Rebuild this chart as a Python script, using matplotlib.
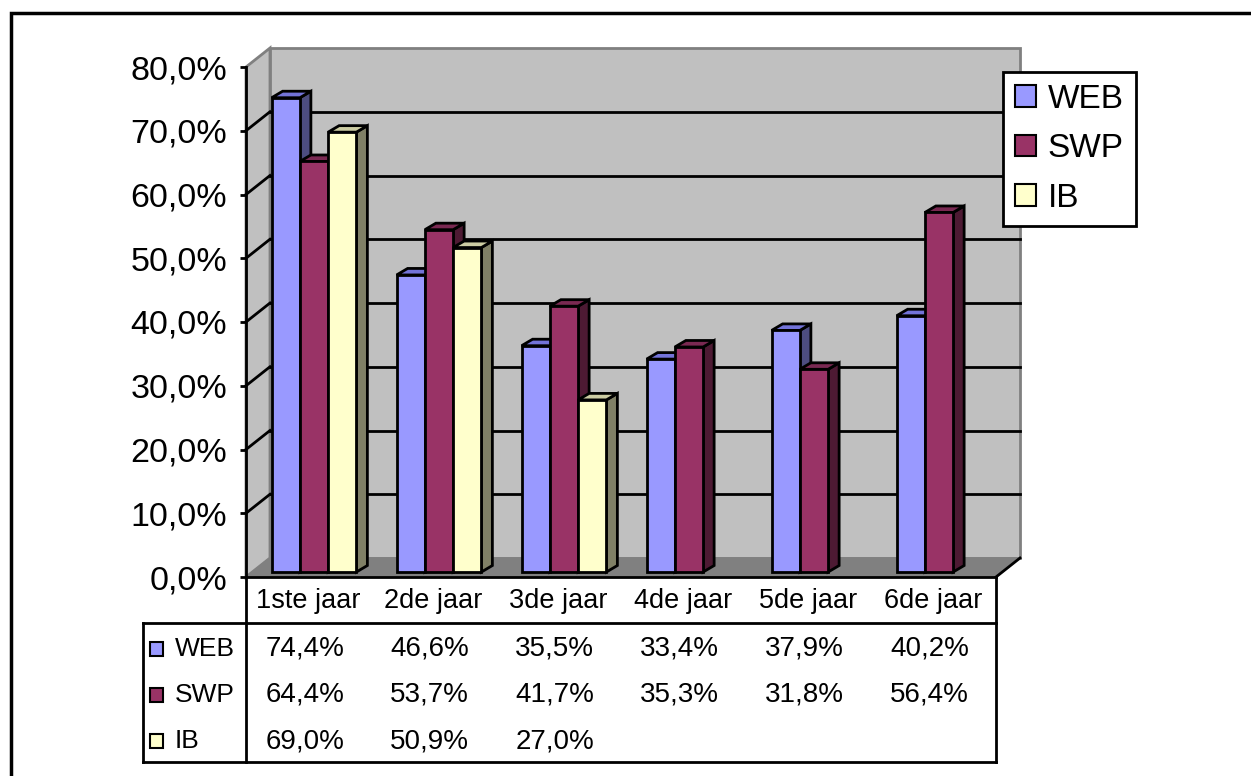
import numpy as np
import matplotlib.pyplot as plt
from matplotlib.patches import Polygon, Rectangle, Patch
from matplotlib.ticker import FuncFormatter

plt.rcParams['font.family'] = 'Liberation Sans'

categories = ['1ste jaar', '2de jaar', '3de jaar', '4de jaar', '5de jaar', '6de jaar']
series = ['WEB', 'SWP', 'IB']
web = [74.4, 46.6, 35.5, 33.4, 37.9, 40.2]
swp = [64.4, 53.7, 41.7, 35.3, 31.8, 56.4]
ib = [69.0, 50.9, 27.0, None, None, None]
y_ticks = [0, 10, 20, 30, 40, 50, 60, 70, 80]

values = [web, swp, ib]
c_front = ['#9999FF', '#993366', '#FFFFCC']
c_top = ['#7373D9', '#7A2952', '#CCCCA3']
c_side = ['#4D4D80', '#4D1A33', '#808066']

def pct(v):
    return f'{v:.1f}'.replace('.', ',') + '%'

W, H = 1251, 776
fig = plt.figure(figsize=(W / 100, H / 100), dpi=100)

def box(x0, y0, x1, y1):
    # pixel box (top-left origin) -> figure rect
    return [x0 / W, 1 - y1 / H, (x1 - x0) / W, (y1 - y0) / H]

n = len(categories)
ymax = y_ticks[-1]
LW = 2

ax = fig.add_axes(box(246, 67, 996, 577))
ax.set_xlim(0, n)
ax.set_ylim(0, ymax)
ax.patch.set_visible(False)

dx, dy = 0.192, 2.98     # wall depth
bx, by = 0.044, 0.78     # offset of the bar front faces
bdx, bdy = 0.088, 1.02   # bar depth
bw = 0.226

# side wall, back wall, floor
ax.add_patch(Polygon([(0, 0), (dx, dy), (dx, ymax + dy), (0, ymax)],
                     fc='#C0C0C0', ec='#808080', lw=LW, clip_on=False, zorder=0.5))
ax.add_patch(Polygon([(dx, dy), (n + dx, dy), (n + dx, ymax + dy), (dx, ymax + dy)],
                     fc='#C0C0C0', ec='#808080', lw=LW, clip_on=False, zorder=0.5))
ax.add_patch(Polygon([(0, 0), (n, 0), (n + dx, dy), (dx, dy)],
                     fc='#808080', ec='#808080', lw=1, clip_on=False, zorder=0.6))
ax.plot([n, n + dx], [0, dy], color='black', lw=LW, clip_on=False, zorder=0.7)

for v in y_ticks[1:-1]:
    ax.plot([dx, n + dx], [v + dy, v + dy], color='black', lw=LW, clip_on=False, zorder=1)
    ax.plot([0, dx], [v, v + dy], color='black', lw=LW, clip_on=False, zorder=1)

# 3D columns
z = 2
for i in range(n):
    for s, vals in enumerate(values):
        v = vals[i]
        if v is None:
            continue
        x0 = i + 0.5 - 1.5 * bw + s * bw + bx
        x1 = x0 + bw
        yb, yt = by, v + by
        ax.add_patch(Polygon([(x1, yb), (x1 + bdx, yb + bdy), (x1 + bdx, yt + bdy), (x1, yt)],
                             fc=c_side[s], ec='black', lw=LW, clip_on=False, zorder=z))
        ax.add_patch(Polygon([(x0, yt), (x1, yt), (x1 + bdx, yt + bdy), (x0 + bdx, yt + bdy)],
                             fc=c_top[s], ec='black', lw=LW, clip_on=False, zorder=z))
        ax.add_patch(Rectangle((x0, yb), bw, v, fc=c_front[s], ec='black', lw=LW,
                               clip_on=False, zorder=z + 0.1))
        z += 0.2

ax.set_yticks(y_ticks)
ax.yaxis.set_major_formatter(FuncFormatter(lambda v, p: pct(v)))
ax.tick_params(axis='y', direction='out', length=4.5, width=LW, pad=9, labelsize=24.5)
ax.set_xticks([])
for side in ['top', 'right']:
    ax.spines[side].set_visible(False)
for side in ['left', 'bottom']:
    ax.spines[side].set_linewidth(LW)

# data table underneath
tax = fig.add_axes(box(143, 577, 996, 762))
tax.set_xlim(-103 / 125, n)
tax.set_ylim(4, 0)
tax.axis('off')
xl = -103 / 125
lines = [([0, 0], [0, 4]), ([n, n], [0, 4]), ([xl, n], [1, 1]),
         ([xl, n], [4, 4]), ([xl, xl], [1, 4])]
for xs, ys in lines:
    tax.plot(xs, ys, color='black', lw=LW, clip_on=False)

for i, cat in enumerate(categories):
    tax.text(i + 0.5, 0.52, cat, ha='center', va='center', fontsize=19.5)

for s, name in enumerate(series):
    row = 1.55 + s
    tax.add_patch(Rectangle((-0.765, row - 0.15), 0.1, 0.3, fc=c_front[s], ec='black',
                            lw=1.5, clip_on=False))
    tax.text(-0.57, row, name, ha='left', va='center', fontsize=19)
    for i, v in enumerate(values[s]):
        if v is not None:
            tax.text(i + 0.47, row, pct(v), ha='center', va='center', fontsize=20)

# legend
handles = [Patch(fc=c_front[s], ec='black', lw=1.5) for s in range(len(series))]
leg = fig.legend(handles, series, loc='upper left', bbox_to_anchor=(1003 / W, 1 - 72 / H),
                 fontsize=24, frameon=True, fancybox=False, framealpha=1,
                 edgecolor='black', borderpad=0.36, handlelength=0.62, handleheight=0.62,
                 handletextpad=0.36, labelspacing=0.55, borderaxespad=0)
leg.get_frame().set_linewidth(LW)

# chart area border
fig.add_artist(Rectangle((11 / W, -0.1), 1.2, 1 - 13 / H + 0.1, transform=fig.transFigure,
                         fill=False, ec='black', lw=2.5))

fig.savefig('out.png', dpi=100)
